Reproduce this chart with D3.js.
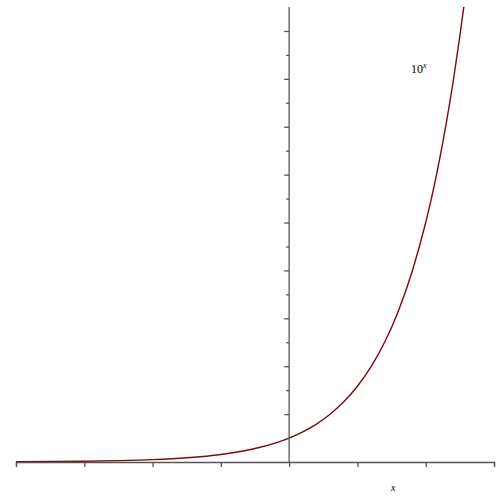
<!DOCTYPE html>
<html><head><meta charset="utf-8">
<script src="https://cdn.jsdelivr.net/npm/d3@7"></script>
<style>body{margin:0;background:#fff}</style>
</head><body><div id="chart"></div>
<script>
// 10^x
var xs = [-2, -1.75, -1.5, -1.25, -1, -0.75, -0.5, -0.25, 0, 0.1, 0.2, 0.3, 0.4, 0.5, 0.6, 0.7, 0.8, 0.9, 1, 1.05, 1.1, 1.15, 1.2, 1.25, 1.28];
var ys = [0.01, 0.018, 0.032, 0.056, 0.1, 0.178, 0.316, 0.562, 1, 1.259, 1.585, 1.995, 2.512, 3.162, 3.981, 5.012, 6.31, 7.943, 10, 11.22, 12.59, 14.13, 15.85, 17.78, 19.05];
var xTicks = [-2, -1, 0, 1];
var yTicks = [2, 4, 6, 8, 10, 12, 14, 16, 18];

var width = 500, height = 500;
var svg = d3.select("div#chart").append("svg")
    .attr("width", width).attr("height", height);

var x = d3.scaleLinear().domain([-2, 1.5]).range([16, 494]);
var y = d3.scaleLinear().domain([0, 19]).range([462, 7]);

var font = "Liberation Serif, Times New Roman, serif";

svg.append("defs").append("clipPath").attr("id", "clip")
  .append("rect").attr("x", 0).attr("y", 7).attr("width", width).attr("height", 460);

svg.append("path")
    .datum(xs.map((d, i) => [d, ys[i]]))
    .attr("clip-path", "url(#clip)")
    .attr("fill", "none")
    .attr("stroke", "#7a0a14")
    .attr("stroke-width", 1.4)
    .attr("d", d3.line().x(d => x(d[0])).y(d => y(d[1])).curve(d3.curveMonotoneX));

// x axis
var gx = svg.append("g").attr("transform", "translate(0," + y(0) + ")");
gx.call(d3.axisBottom(x).tickValues(d3.range(-2, 1.51, 0.5)).tickSize(5).tickFormat(""));
gx.select(".domain").attr("stroke", "#555").attr("stroke-width", 1.3);
gx.selectAll(".tick line").attr("stroke", "#555").attr("stroke-width", 1.3);
gx.selectAll(".lab").data(xTicks).enter().append("text")
    .attr("x", d => x(d)).attr("y", 22)
    .attr("text-anchor", "middle")
    .style("font-family", font).style("font-size", "13px")
    .text(d => d < 0 ? "\u2212 " + (-d) : d);

// y axis
var gy = svg.append("g").attr("transform", "translate(" + x(0) + ",0)");
gy.call(d3.axisLeft(y).tickValues(d3.range(1, 19, 1)).tickSize(5).tickFormat("").tickSizeOuter(0));
gy.select(".domain").attr("stroke", "#555").attr("stroke-width", 1.3)
    .attr("d", "M0," + y(0) + "V7");
gy.selectAll(".tick line").attr("stroke", "#555").attr("stroke-width", 1.3)
    .attr("x2", d => d % 2 === 0 ? -5 : -3);
gy.selectAll(".lab").data(yTicks).enter().append("text")
    .attr("x", -8).attr("y", d => y(d)).attr("dy", "0.35em")
    .attr("text-anchor", "end")
    .style("font-family", font).style("font-size", "13px")
    .text(d => d);

// labels
var t = svg.append("text").attr("x", 411).attr("y", 73)
    .style("font-family", font).style("font-size", "12px");
t.append("tspan").text("10");
t.append("tspan").attr("dy", -5).style("font-size", "8px").style("font-style", "italic").text("x");

svg.append("text").attr("x", 391).attr("y", 491)
    .style("font-family", font).style("font-size", "10px").style("font-style", "italic")
    .text("x");
</script></body></html>
